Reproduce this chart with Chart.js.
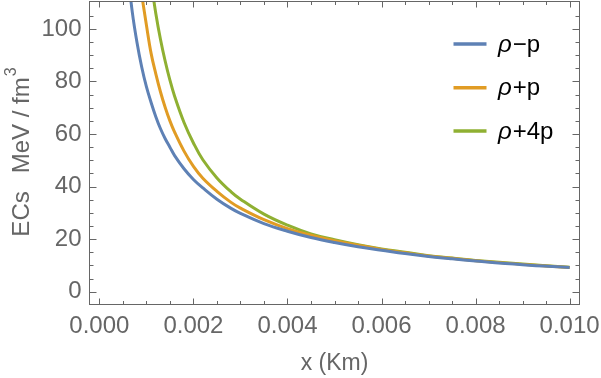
<!DOCTYPE html>
<html><head><meta charset="utf-8">
<script src="https://cdn.jsdelivr.net/npm/chart.js@4.4.0/dist/chart.umd.min.js"></script>
<style>html,body{margin:0;padding:0;background:#fff;}canvas{display:block;}</style>
</head><body>
<canvas id="c" width="601" height="378"></canvas>
<script>
// ---- data ----
const xValues   = [0.0006,0.0007,0.0008,0.0009,0.001,0.0011,0.0012,0.0013,0.0014,0.0015,0.0016,0.0018,0.002,0.0022,0.0025,0.0028,0.003,0.0035,0.004,0.0045,0.005,0.0055,0.006,0.0065,0.007,0.0075,0.008,0.009,0.010];
const rhoMinusP = [122,106.4,94.8,85.5,78.0,72.0,66.6,62.0,58.2,55.0,51.8,46.8,42.7,39.5,35.2,31.7,29.8,25.9,23.0,20.6,18.7,17.1,15.8,14.5,13.4,12.5,11.7,10.3,9.2];
const rhoPlusP  = [null,null,null,113.1,101.5,90.7,82.9,76.0,70.1,65.0,60.7,53.5,47.7,43.2,38.2,34.0,31.8,27.4,24.0,21.5,19.4,17.7,16.1,14.8,13.6,12.7,11.8,10.4,9.2];
const rhoPlus4P = [null,null,null,null,null,117.9,105.9,96.0,87.7,80.5,74.4,64.4,56.6,50.2,43.3,38.0,35.2,29.5,25.3,22.0,19.8,17.9,16.3,15.0,13.7,12.8,11.9,10.5,9.3];
const seriesNames  = ['ρ−p','ρ+p','ρ+4p'];
const seriesColors = ['#5E81B5','#E19C24','#8FB032'];
const xTickValues = [0,0.002,0.004,0.006,0.008,0.010];
const xTickLabels = ['0.000','0.002','0.004','0.006','0.008','0.010'];
const yTickValues = [0,20,40,60,80,100];
const yTickLabels = ['0','20','40','60','80','100'];
const xMinorStep = 0.0005, yMinorStep = 5;
const xRange = [-0.00021, 0.01021];
const yRange = [-4.87, 110.43];
const xTitle = 'x (Km)';
const yTitleParts = ['ECs', 'MeV / fm', '3'];

const FONT = "'Liberation Sans', Arial, sans-serif";
const AXIS_COLOR = '#666666';

function pts(ys){ const out=[]; ys.forEach((y,i)=>{ if(y!==null) out.push({x:xValues[i], y:y}); }); return out; }
const seriesData = [rhoMinusP, rhoPlusP, rhoPlus4P];

const framePlugin = {
  id:'frame',
  afterDatasetsDraw(chart){
    const ctx = chart.ctx, a = chart.chartArea, xs = chart.scales.x, ys = chart.scales.y;
    ctx.save();
    ctx.strokeStyle = AXIS_COLOR; ctx.lineWidth = 1;
    ctx.strokeRect(a.left, a.top, a.right-a.left, a.bottom-a.top);
    ctx.beginPath();
    const xMax = xTickValues[xTickValues.length-1];
    for(let k=0; k*xMinorStep <= xMax+1e-12; k++){
      const v = k*xMinorStep;
      const major = xTickValues.some(t=>Math.abs(t-v)<1e-9);
      const len = major ? 6 : 3.5;
      const px = Math.round(xs.getPixelForValue(v))+0.5;
      ctx.moveTo(px, a.bottom); ctx.lineTo(px, a.bottom-len);
      ctx.moveTo(px, a.top); ctx.lineTo(px, a.top+len);
    }
    const yMax = yTickValues[yTickValues.length-1];
    for(let k=0; k*yMinorStep <= yMax+yMinorStep+1e-9; k++){
      const v = k*yMinorStep;
      if(v > ys.max-2) break;
      const major = yTickValues.includes(v);
      const len = major ? 7 : 4;
      const py = Math.round(ys.getPixelForValue(v))+0.5;
      ctx.moveTo(a.left, py); ctx.lineTo(a.left+len, py);
      ctx.moveTo(a.right, py); ctx.lineTo(a.right-len, py);
    }
    ctx.stroke();

    // legend
    const legY = [44, 87.7, 131];
    seriesNames.forEach((name,i)=>{
      ctx.strokeStyle = seriesColors[i]; ctx.lineWidth = 3.5;
      ctx.beginPath(); ctx.moveTo(453.5, legY[i]); ctx.lineTo(486.5, legY[i]); ctx.stroke();
      ctx.fillStyle = '#000'; ctx.textBaseline = 'middle'; ctx.textAlign='left';
      ctx.font = 'italic 24px ' + FONT;
      const rho = name.charAt(0);
      ctx.fillText(rho, 498, legY[i]+1);
      const w = ctx.measureText(rho).width;
      ctx.font = '24px ' + FONT;
      ctx.fillText(name.slice(1), 498 + w + 1, legY[i]+1);
    });

    // x title
    ctx.fillStyle = AXIS_COLOR; ctx.textAlign='center'; ctx.textBaseline='alphabetic';
    ctx.font = '23px ' + FONT;
    ctx.fillText(xTitle, (a.left+a.right)/2, 369.5);

    // y title (rotated, with superscript)
    ctx.save();
    ctx.translate(28.5, 152);
    ctx.rotate(-Math.PI/2);
    ctx.textAlign='left';
    ctx.font = '24px ' + FONT;
    const w0 = ctx.measureText(yTitleParts[0]).width;
    const w1 = ctx.measureText(yTitleParts[1]).width;
    ctx.font = '16px ' + FONT;
    const w2 = ctx.measureText(yTitleParts[2]).width;
    const gap = 18;
    const total = w0 + gap + w1 + 1 + w2;
    let x0 = -total/2;
    ctx.font = '24px ' + FONT;
    ctx.fillText(yTitleParts[0], x0, 0);
    ctx.fillText(yTitleParts[1], x0 + w0 + gap, 0);
    ctx.font = '16px ' + FONT;
    ctx.fillText(yTitleParts[2], x0 + w0 + gap + w1 + 1, -13);
    ctx.restore();
    ctx.restore();
  }
};

new Chart(document.getElementById('c'), {
  type:'line',
  data:{
    datasets: seriesData.map((ys,i)=>({
      label: seriesNames[i],
      data: pts(ys),
      borderColor: seriesColors[i],
      backgroundColor: seriesColors[i],
      borderWidth: 3,
      pointRadius: 0,
      fill: false,
      tension: 0.4
    }))
  },
  options:{
    responsive:false, animation:false, devicePixelRatio:1,
    layout:{ padding:{ top:1.5, right:21.5, left:0, bottom:0 } },
    plugins:{ legend:{display:false}, tooltip:{enabled:false}, title:{display:false} },
    scales:{
      x:{
        type:'linear', min:xRange[0], max:xRange[1], bounds:'data',
        afterBuildTicks: s => { s.ticks = xTickValues.map(v=>({value:v})); },
        afterFit: s => { s.height = 73.5; s.paddingLeft = 0; s.paddingRight = 0; },
        grid:{display:false, drawTicks:false}, border:{display:false},
        ticks:{ callback:(v,i)=>xTickLabels[i], color:AXIS_COLOR, font:{family:FONT, size:24}, padding:7, maxRotation:0, autoSkip:false }
      },
      y:{
        type:'linear', min:yRange[0], max:yRange[1], bounds:'data',
        afterBuildTicks: s => { s.ticks = yTickValues.map(v=>({value:v})); },
        afterFit: s => { s.width = 89.5; s.paddingTop = 0; s.paddingBottom = 0; },
        grid:{display:false, drawTicks:false}, border:{display:false},
        ticks:{ callback:(v,i)=>yTickLabels[i], color:AXIS_COLOR, font:{family:FONT, size:24}, padding:8, autoSkip:false }
      }
    }
  },
  plugins:[framePlugin]
});
</script>
</body></html>
